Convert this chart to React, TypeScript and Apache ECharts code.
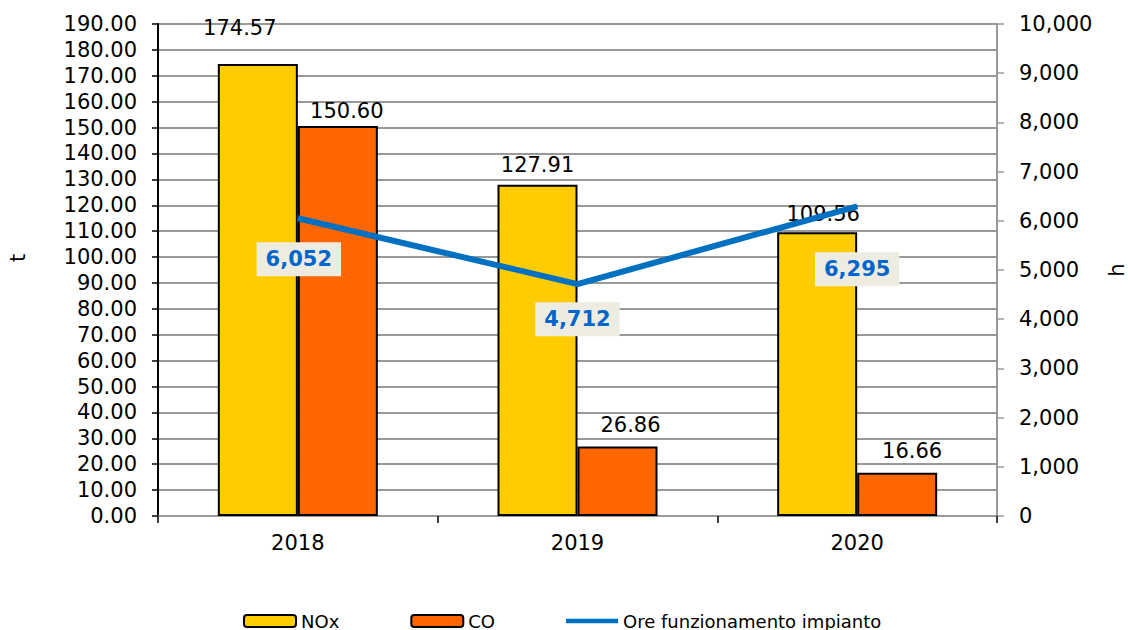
import React, { useEffect, useRef } from "react";
import * as echarts from "echarts";

const categories = ["2018", "2019", "2020"];
const noxValues = [174.57, 127.91, 109.56];
const coValues = [150.6, 26.86, 16.66];
const oreValues = [6052, 4712, 6295];
const seriesNames = ["NOx", "CO", "Ore funzionamento impianto"];

const FONT = "DejaVu Sans";

const noxOffsets = [[-18, -20], [0, -4], [6, -3]];
const coOffsets = [[9, 0], [13, -6], [15, -6]];
const oreOffsets = [[1, 41], [0, 35], [0, 63]];

export default function App() {
  const ref = useRef<HTMLDivElement>(null);
  useEffect(() => {
    document.body.style.margin = "0";
    const chart = echarts.init(ref.current!, undefined, { renderer: "svg" });
    const fmt2 = (v: number) => v.toFixed(2);
    const fmtK = (v: number) => v.toLocaleString("en-US");
    chart.setOption({
      animation: false,
      textStyle: { fontFamily: FONT },
      grid: { left: 158, right: 131, top: 24, bottom: 114 },
      legend: {
        data: [
          { name: seriesNames[0] },
          { name: seriesNames[1] },
          { name: seriesNames[2], icon: "path://M0,0 L56,0 L56,5 L0,5 Z" },
        ],
        left: 238,
        top: 607,
        itemWidth: 52,
        itemHeight: 12,
        itemGap: 71,
        textStyle: { fontFamily: FONT, fontSize: 18, color: "#000" },
      },
      graphic: [
        {
          type: "text",
          x: 18,
          y: 258,
          rotation: Math.PI / 2,
          style: { text: "t", fontFamily: FONT, fontSize: 21, fill: "#000", align: "center", verticalAlign: "middle" },
        },
        {
          type: "text",
          x: 1117,
          y: 270,
          rotation: Math.PI / 2,
          style: { text: "h", fontFamily: FONT, fontSize: 21, fill: "#000", align: "center", verticalAlign: "middle" },
        },
      ],
      xAxis: {
        type: "category",
        data: categories,
        boundaryGap: true,
        axisLine: { lineStyle: { color: "#999", width: 2 } },
        axisTick: { show: true, length: 7, lineStyle: { color: "#000", width: 1.5 } },
        axisLabel: { fontFamily: FONT, fontSize: 21, color: "#000", margin: 16 },
      },
      yAxis: [
        {
          type: "value",
          min: 0,
          max: 190,
          interval: 10,
          axisLine: { show: true, lineStyle: { color: "#000", width: 2 } },
          axisTick: { show: true, length: 6, lineStyle: { color: "#000", width: 1.5 } },
          axisLabel: { fontFamily: FONT, fontSize: 21, color: "#000", margin: 21, formatter: (v: number) => fmt2(v) },
          splitLine: { show: true, lineStyle: { color: "#999", width: 2 } },
        },
        {
          type: "value",
          min: 0,
          max: 10000,
          interval: 1000,
          position: "right",
          axisLine: { show: true, lineStyle: { color: "#999", width: 2 } },
          axisTick: { show: true, length: 7, lineStyle: { color: "#999", width: 1.5 } },
          axisLabel: { fontFamily: FONT, fontSize: 21, color: "#000", margin: 22, formatter: (v: number) => fmtK(v) },
          splitLine: { show: false },
        },
      ],
      series: [
        {
          name: seriesNames[0],
          type: "bar",
          data: noxValues.map((v, i) => ({
            value: v,
            label: { offset: noxOffsets[i] },
          })),
          barWidth: 80,
          barGap: "0%",
          itemStyle: { color: "#FFCC00", borderColor: "#000", borderWidth: 2 },
          label: {
            show: true,
            position: "top",
            fontFamily: FONT,
            fontSize: 21,
            color: "#000",
            formatter: (p: any) => fmt2(p.value),
          },
        },
        {
          name: seriesNames[1],
          type: "bar",
          data: coValues.map((v, i) => ({
            value: v,
            label: { offset: coOffsets[i] },
          })),
          barWidth: 80,
          barGap: "0%",
          itemStyle: { color: "#FF6600", borderColor: "#000", borderWidth: 2 },
          label: {
            show: true,
            position: "top",
            fontFamily: FONT,
            fontSize: 21,
            color: "#000",
            formatter: (p: any) => fmt2(p.value),
          },
        },
        {
          name: seriesNames[2],
          type: "line",
          yAxisIndex: 1,
          data: oreValues.map((v, i) => ({
            value: v,
            label: { offset: oreOffsets[i] },
          })),
          symbol: "circle",
          symbolSize: 1,
          showSymbol: true,
          lineStyle: { color: "#0070C0", width: 6 },
          itemStyle: { color: "#0070C0" },
          z: 5,
          label: {
            show: true,
            position: "inside",
            fontFamily: FONT,
            fontSize: 21,
            fontWeight: "bold",
            color: "#0066CC",
            backgroundColor: "#EEECE1",
            padding: [7, 9, 6, 9],
            formatter: (p: any) => fmtK(p.value),
          },
        },
      ],
    });
    return () => chart.dispose();
  }, []);
  return <div ref={ref} style={{ width: 1128, height: 630 }} />;
}
